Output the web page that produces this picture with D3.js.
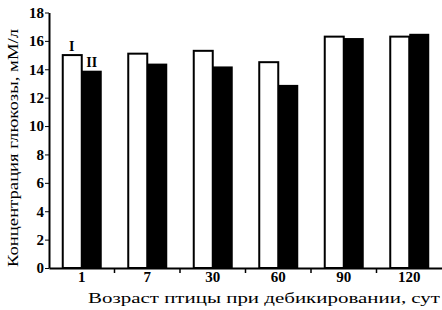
<!DOCTYPE html>
<html>
<head>
<meta charset="utf-8">
<script src="https://cdn.jsdelivr.net/npm/d3@7"></script>
<style>
  body { margin: 0; background: #fff; }
  svg { display: block; }
  text { font-family: "Liberation Serif", "DejaVu Serif", serif; fill: #000; }
</style>
</head>
<body>
<svg id="chart" width="442" height="310"></svg>
<script>
const ages = ["1", "7", "30", "60", "90", "120"];
const groupI = [15.0, 15.1, 15.3, 14.5, 16.3, 16.3];
const groupII = [13.9, 14.4, 14.2, 12.9, 16.2, 16.5];
const yTicks = [0, 2, 4, 6, 8, 10, 12, 14, 16, 18];

const svg = d3.select("#chart");
const plotLeft = 49, plotRight = 442, plotTop = 12.5, plotBottom = 268;

const x = d3.scaleBand().domain(ages).range([plotLeft, plotRight]);
const sub = d3.scaleBand().domain(["I", "II"]).range([0, 40]);
const y = d3.scaleLinear().domain([0, 18]).range([plotBottom, plotTop]);

const rows = ages.map((a, i) => ({ age: a, I: groupI[i], II: groupII[i] }));
const offset = d => x(d.age) + x.bandwidth() / 2 - 20;

// white bars (I)
svg.selectAll("rect.w")
  .data(rows)
  .enter()
  .append("rect")
  .attr("class", "w")
  .attr("x", d => offset(d) + sub("I") + 1)
  .attr("y", d => y(d.I))
  .attr("width", sub.bandwidth() - 1)
  .attr("height", d => plotBottom - y(d.I))
  .attr("fill", "#fff")
  .attr("stroke", "#000")
  .attr("stroke-width", 2);

// black bars (II)
svg.selectAll("rect.b")
  .data(rows)
  .enter()
  .append("rect")
  .attr("class", "b")
  .attr("x", d => offset(d) + sub("II"))
  .attr("y", d => y(d.II))
  .attr("width", sub.bandwidth())
  .attr("height", d => plotBottom - y(d.II))
  .attr("fill", "#000");

// y axis
const yAxis = svg.append("g")
  .attr("transform", `translate(${plotLeft},0)`)
  .call(d3.axisLeft(y).tickValues(yTicks).tickSize(4).tickSizeOuter(0));
yAxis.select(".domain").attr("stroke-width", 2);
yAxis.selectAll("text")
  .attr("x", -5)
  .style("font-size", "15px")
  .style("font-weight", "bold")
  .style("font-family", "'Liberation Serif', serif");

// x axis
const xAxis = svg.append("g")
  .attr("transform", `translate(0,${plotBottom})`)
  .call(d3.axisBottom(x).tickSize(0).tickSizeOuter(0));
xAxis.select(".domain").attr("stroke-width", 2);
xAxis.selectAll("text")
  .attr("dy", "0.71em")
  .attr("y", 3)
  .style("font-size", "15px")
  .style("font-weight", "bold")
  .style("font-family", "'Liberation Serif', serif");

// small ticks between groups
svg.append("g")
  .selectAll("line")
  .data(ages.slice(1))
  .enter()
  .append("line")
  .attr("x1", d => x(d))
  .attr("x2", d => x(d))
  .attr("y1", plotBottom)
  .attr("y2", plotBottom + 5)
  .attr("stroke", "#000")
  .attr("stroke-width", 1.5);

// series labels on first group
svg.append("text")
  .attr("x", offset(rows[0]) + sub("I") + sub.bandwidth() / 2)
  .attr("y", y(groupI[0]) - 4)
  .attr("text-anchor", "middle")
  .style("font-size", "14px")
  .style("font-weight", "bold")
  .text("I");
svg.append("text")
  .attr("x", offset(rows[0]) + sub("II") + sub.bandwidth() / 2)
  .attr("y", y(groupII[0]) - 4)
  .attr("text-anchor", "middle")
  .style("font-size", "14px")
  .style("font-weight", "bold")
  .text("II");

// axis titles
svg.append("text")
  .attr("transform", "translate(18,148) rotate(-90)")
  .attr("text-anchor", "middle")
  .attr("textLength", 238)
  .attr("lengthAdjust", "spacingAndGlyphs")
  .style("font-size", "15px")
  .text("Концентрация глюкозы, мМ/л");

svg.append("text")
  .attr("x", 264)
  .attr("y", 303)
  .attr("text-anchor", "middle")
  .attr("textLength", 352)
  .attr("lengthAdjust", "spacingAndGlyphs")
  .style("font-size", "15px")
  .text("Возраст птицы при дебикировании, сут");
</script>
</body>
</html>
